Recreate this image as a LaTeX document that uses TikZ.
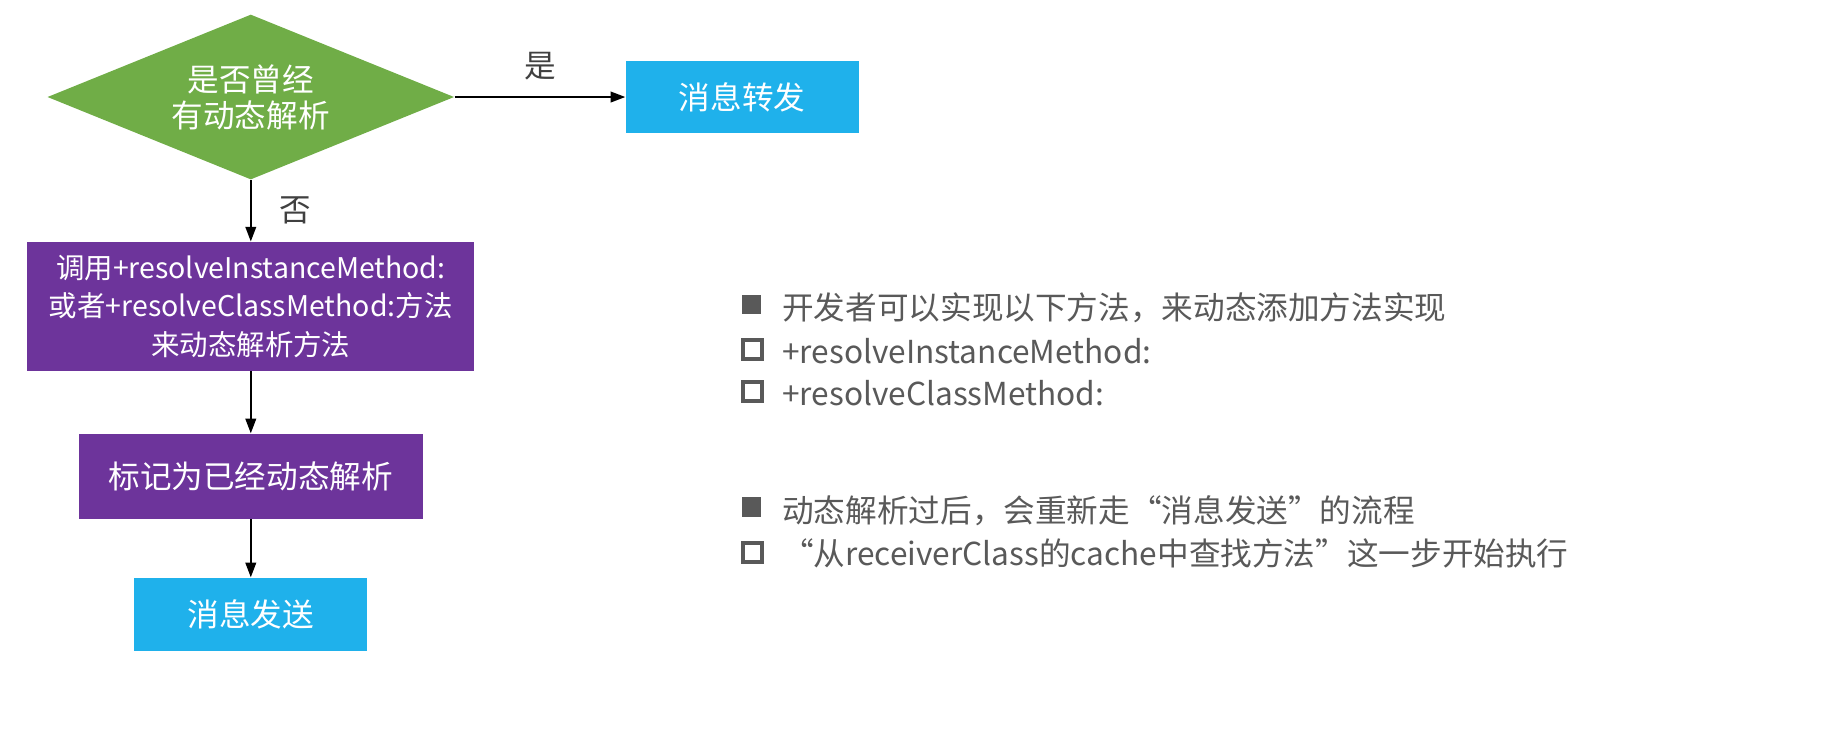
\documentclass[tikz,border=0pt]{standalone}
\usepackage{fontspec}
\setmainfont{Noto Sans CJK SC}
\usepackage{tikz}
\usetikzlibrary{arrows.meta,shapes.geometric,positioning}
\definecolor{askgreen}{HTML}{70AD47}
\definecolor{msgblue}{HTML}{1FB1EB}
\definecolor{stepviolet}{HTML}{6D349B}
\definecolor{notegray}{HTML}{595959}

\begin{document}
\begin{tikzpicture}[
    flow/.style = {draw=none, text=white, align=center, font=\fontsize{15}{17}\selectfont},
    flowarrow/.style = {-{Triangle[length=7pt,width=5pt]}, line width=1pt},
    note/.style = {anchor=west, text=notegray, inner sep=0pt, font=\fontsize{15}{18}\selectfont},
    fullmark/.style = {fill=notegray, minimum size=0.317cm, inner sep=0pt},
    emptymark/.style = {draw=notegray, line width=1.9pt, minimum size=0.317cm, inner sep=0pt}
]
    \useasboundingbox (0,0) rectangle (30.6,-12.367);
    % decision
    \node[flow, diamond, aspect=2.47, fill=askgreen, minimum width=6.78cm, minimum height=2.75cm, inner sep=0pt]
        (ask) at (4.18,-1.617) {是否曾经\\有动态解析};
    % boxes
    \node[flow, rectangle, fill=msgblue, minimum width=3.88cm, minimum height=1.2cm]
        (forward) at (12.37,-1.617) {消息转发};
    \node[flow, rectangle, fill=stepviolet, minimum width=7.45cm, minimum height=2.15cm,
        font=\fontsize{13.5}{18.3}\selectfont]
        (resolve) at (4.18,-5.108) {调用+resolveInstanceMethod:\\或者+resolveClassMethod:方法\\来动态解析方法};
    \node[flow, rectangle, fill=stepviolet, minimum width=5.73cm, minimum height=1.42cm]
        (mark) at (4.18,-7.94) {标记为已经动态解析};
    \node[flow, rectangle, fill=msgblue, minimum width=3.88cm, minimum height=1.22cm]
        (send) at (4.18,-10.24) {消息发送};
    % arrows
    \path[draw, flowarrow](ask.east)to node[midway, above=0.15cm, text=black!75, font=\fontsize{15}{17}\selectfont] {是}(forward.west);
    \path[draw, flowarrow](ask.south)to node[midway, right=0.35cm, text=black!75, font=\fontsize{15}{17}\selectfont] {否}(resolve.north);
    \path[draw, flowarrow](resolve.south)to(mark.north);
    \path[draw, flowarrow](mark.south)to(send.north);
    % notes
    \node[fullmark] (m1) at (12.52,-5.075) {};
    \node[note] (n1) at (13.03,-5.13) {开发者可以实现以下方法，来动态添加方法实现};
    \node[emptymark] (m2) at (12.54,-5.83) {};
    \node[note] (n2) at (13.03,-5.85) {+resolveInstanceMethod:};
    \node[emptymark] (m3) at (12.54,-6.53) {};
    \node[note] (n3) at (13.03,-6.55) {+resolveClassMethod:};
    \node[fullmark] (m4) at (12.52,-8.45) {};
    \node[note] (n4) at (13.03,-8.52) {动态解析过后，会重新走“消息发送”的流程};
    \node[emptymark] (m5) at (12.54,-9.21) {};
    \node[note] (n5) at (13.03,-9.23) {“从receiverClass的cache中查找方法”这一步开始执行};
\end{tikzpicture}
\end{document}
